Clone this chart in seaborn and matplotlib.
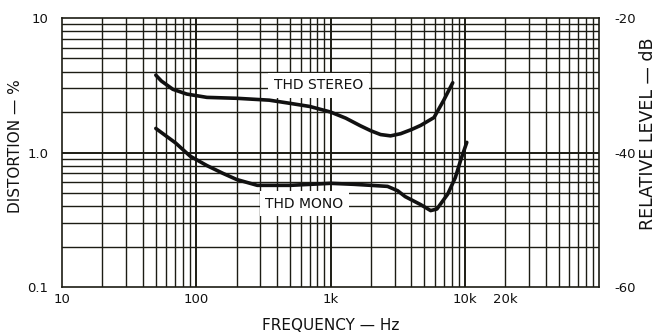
import numpy as np
import pandas as pd
import matplotlib
matplotlib.use("Agg")
import matplotlib.pyplot as plt
import seaborn as sns
from matplotlib.ticker import FixedLocator, NullFormatter

# THD curves (frequency in Hz, distortion in %)
stereo_freq = [50, 55, 67, 85, 120, 200, 350, 500, 700, 1000, 1300, 1670,
               2000, 2360, 2800, 3330, 4000, 4690, 5900, 6960, 8130]
stereo_thd = [3.76, 3.4, 2.95, 2.72, 2.57, 2.53, 2.45, 2.32, 2.2, 2.0, 1.8, 1.58,
              1.45, 1.36, 1.33, 1.38, 1.48, 1.59, 1.82, 2.44, 3.3]

mono_freq = [50, 70, 90, 120, 158, 200, 285, 500, 1000, 1500, 2000, 2660,
             3160, 3600, 4690, 5570, 6200, 7460, 8500, 9300, 10350]
mono_thd = [1.51, 1.18, 0.94, 0.8, 0.70, 0.63, 0.57, 0.57, 0.59, 0.58, 0.57, 0.56,
            0.52, 0.47, 0.41, 0.37, 0.38, 0.49, 0.65, 0.87, 1.19]

x_ticks = [10, 100, 1000, 10000, 20000]
x_ticklabels = ["10", "100", "1k", "10k", "20k"]
y_ticks = [0.1, 1.0, 10]
y_ticklabels = ["0.1", "1.0", "10"]
db_ticks = [-60, -40, -20]

df = pd.concat([
    pd.DataFrame({"freq": stereo_freq, "thd": stereo_thd, "curve": "THD STEREO"}),
    pd.DataFrame({"freq": mono_freq, "thd": mono_thd, "curve": "THD MONO"}),
])

sns.set_style("white")
plt.rcParams["font.family"] = ["DejaVu Sans"]

ink = "#1c1c14"
txt = "#111111"
fig = plt.figure(figsize=(6.65, 3.36), dpi=100)
ax = fig.add_axes([0.0932, 0.1458, 0.8076, 0.8006])
ax.set_xscale("log")
ax.set_yscale("log")
ax.set_xlim(10, 100000)
ax.set_ylim(0.1, 10)

# log grid: minor lines everywhere, decades a bit heavier
minor_x = [m * 10 ** d for d in range(1, 5) for m in range(2, 10)]
minor_y = [m * 10 ** d for d in range(-1, 1) for m in range(2, 10)]
ax.xaxis.set_minor_locator(FixedLocator(minor_x))
ax.yaxis.set_minor_locator(FixedLocator(minor_y))
ax.xaxis.set_minor_formatter(NullFormatter())
ax.yaxis.set_minor_formatter(NullFormatter())
for v in minor_x:
    ax.axvline(v, color=ink, lw=1.0, zorder=1)
for v in minor_y:
    ax.axhline(v, color=ink, lw=1.0, zorder=1)
for v in [100, 1000, 10000]:
    ax.axvline(v, color=ink, lw=1.4, zorder=1)
ax.axhline(1.0, color=ink, lw=1.4, zorder=1)

sns.lineplot(data=df, x="freq", y="thd", units="curve", estimator=None,
             color="#111111", lw=2.6, sort=False, legend=False, ax=ax, zorder=4)

ax.set_xticks(x_ticks)
ax.set_xticklabels(x_ticklabels, fontsize=9.5)
ax.set_yticks(y_ticks)
ax.set_yticklabels(y_ticklabels, fontsize=9.5)
ax.tick_params(axis="x", which="both", length=0, pad=4, colors=txt)
ax.tick_params(axis="y", which="both", length=0, pad=10, colors=txt)
ax.set_xlabel("FREQUENCY — Hz", fontsize=11, labelpad=9, color=txt)
ax.set_ylabel("DISTORTION — %", fontsize=11, color=txt)
ax.yaxis.set_label_coords(-0.073, 0.524)
for s in ax.spines.values():
    s.set_color(ink)
    s.set_linewidth(1.2)

ax.text(813, 3.16, "THD STEREO", fontsize=10, ha="center", va="center", zorder=5,
        color=txt, bbox=dict(facecolor="white", edgecolor="none", pad=4))
ax.text(640, 0.417, "THD MONO", fontsize=10, ha="center", va="center", zorder=5,
        color=txt, bbox=dict(facecolor="white", edgecolor="none", pad=4))

ax2 = ax.twinx()
ax2.set_ylim(-60, -20)
ax2.set_yticks(db_ticks)
ax2.set_yticklabels([str(t) for t in db_ticks], fontsize=9.5)
ax2.tick_params(length=0, pad=11, colors=txt)
ax2.set_ylabel("RELATIVE LEVEL — dB", fontsize=12.5, color=txt)
ax2.yaxis.set_label_coords(1.075, 0.569)
for s in ax2.spines.values():
    s.set_visible(False)

fig.savefig("out.png", dpi=100)
